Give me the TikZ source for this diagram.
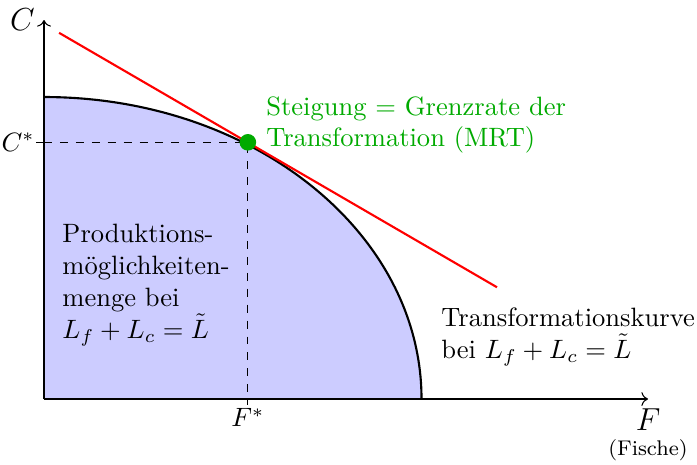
\documentclass[tikz,border=0pt]{standalone}
\usepackage{amsmath}
\usepackage{amssymb}
\usepackage{xcolor}
\usetikzlibrary{arrows.meta, positioning, calc}
\definecolor{MRT_Green}{RGB}{0,170,0}

\begin{document}
\begin{tikzpicture}
    \useasboundingbox (-0.583,-0.861) rectangle (8.649,5.285);

    % Production possibilities set (shaded)
    \fill[blue!20] (0,0) -- (0,4) arc[start angle=90, end angle=0, x radius=5, y radius=4] -- cycle;

    % Axes
    \draw[->] (0,0) -- (8,0) node[below, font=\large] (F) {$F$};
    \node[font=\footnotesize] (fische) at (8,-0.68) {(Fische)};
    \draw[->] (0,0) -- (0,5.02) node[left, font=\large] (C) {$C$};

    % Transformation curve
    \draw[thick] (0,4) arc[start angle=90, end angle=0, x radius=5, y radius=4];

    % Optimum and tangent (MRT)
    \coordinate (Pstar) at (2.7,3.4);
    \coordinate (tanA) at (0.2,4.85);
    \coordinate (tanB) at (6,1.48);
    \draw[red, thick] (tanA) -- (tanB);

    % Dashed guides and ticks
    \draw[dashed] (Pstar -| 0,0) -- (Pstar) -- (Pstar |- 0,0);
    \draw (Pstar -| 0,0) -- ++(-0.1,0);
    \node[left] (Cstar) at (Pstar -| 0,0) {$C^*$};
    \draw (Pstar |- 0,0) -- ++(0,-0.08);
    \node[below] (Fstar) at (Pstar |- 0,0) {$F^*$};
    \fill[MRT_Green] (Pstar) circle (0.11);

    % Labels
    \node[MRT_Green, align=left, anchor=west] (mrt) at (2.82,3.63) {Steigung = Grenzrate der\\Transformation (MRT)};
    \node[align=left, anchor=west] (menge) at (0.12,1.51) {Produktions-\\m\"oglichkeiten-\\menge bei\\$L_f + L_c = \tilde{L}$};
    \node[align=left, anchor=west] (kurve) at (5.14,0.82) {Transformationskurve\\bei $L_f + L_c = \tilde{L}$};
\end{tikzpicture}
\end{document}
